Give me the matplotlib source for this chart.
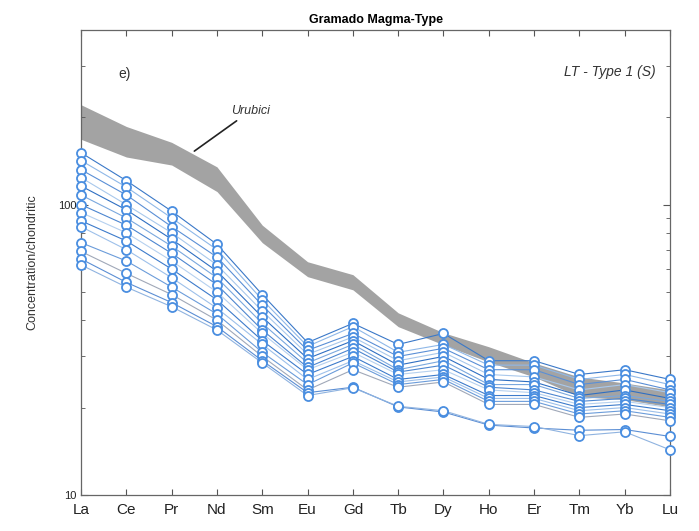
import numpy as np
import matplotlib
matplotlib.use("Agg")
import matplotlib.pyplot as plt
from matplotlib.ticker import LogLocator, NullFormatter, FixedLocator, FixedFormatter

plt.rcParams['font.family'] = ['Liberation Sans', 'DejaVu Sans']

elements = ["La", "Ce", "Pr", "Nd", "Sm", "Eu", "Gd", "Tb", "Dy", "Ho", "Er", "Tm", "Yb", "Lu"]

# Urubici field (chondrite normalised), upper and lower envelope
urubici_upper = [221, 186, 164, 135, 85, 63.6, 57.4, 42.4, 36.2, 32.4, 28.5, 25.5, 24.3, 23.0]
urubici_lower = [168, 146, 137, 111, 74, 56.5, 50.9, 38.0, 32.9, 28.7, 25.5, 21.8, 21.3, 20.1]

# LT - Type 1 (S) samples
samples = [
    [151, 121, 95, 73, 49, 33.5, 39, 33, 36, 29, 29, 26, 27, 25],
    [142, 115, 90, 70, 47, 32.5, 38, 31, 33, 28, 28, 25, 26, 24],
    [132, 108, 84, 66, 45, 31.5, 36, 30, 32, 27, 27, 24, 25, 23],
    [124, 100, 80, 62, 43, 30.5, 35, 29, 31, 26, 25.5, 23, 24, 22.5],
    [116, 96, 76, 59, 41, 29.5, 34, 28, 30, 25, 24.5, 22, 23, 21.5],
    [108, 90, 72, 56, 39, 28.5, 33, 27, 29, 24, 24, 21.5, 22, 21],
    [100, 85, 68, 53, 37, 27.5, 32, 26.5, 28, 23.5, 23, 21, 21.5, 20.5],
    [94, 80, 64, 50, 36, 27, 31, 26, 27, 23, 22.5, 20.5, 21, 20],
    [88, 75, 60, 47, 34, 26, 30, 25, 26, 22, 22, 20, 20.5, 19.5],
    [84, 70, 56, 44, 33, 25, 29, 24.5, 25.5, 21.5, 21.5, 19.5, 20, 19],
    [74, 64, 52, 42, 31, 24, 28.5, 24, 25, 21, 21, 19, 19.5, 18.5],
    [69, 58, 49, 40, 30, 23, 27, 23.5, 24.5, 20.5, 20.5, 18.5, 19, 18],
    [65, 54, 46, 38, 29, 22.5, 23.5, 20.1, 19.3, 17.4, 17.0, 16.7, 16.8, 15.9],
    [62, 52, 44.5, 37, 28.5, 22, 23.4, 20.2, 19.5, 17.5, 17.2, 16.0, 16.5, 14.3],
]

line_colors = ["#3a78c8", "#8fb8e8", "#5a8fd6", "#a8c8ec", "#2f6fc2", "#7aa8de",
               "#4d86d0", "#b5d0ef", "#3d7bcb", "#9dc0ea", "#6b9cda", "#a0a8b8",
               "#5b8ed4", "#8fb3e0"]

fig = plt.figure(figsize=(6.99, 5.31), dpi=100)
ax = fig.add_axes([0.116, 0.068, 0.8425, 0.8755])

x = np.arange(len(elements))
ax.fill_between(x, urubici_lower, urubici_upper, color="#a3a3a3", lw=0, zorder=1)

for vals, c in zip(samples, line_colors):
    ax.plot(x, vals, "-", color=c, lw=0.8, zorder=2)
for vals in samples:
    ax.plot(x, vals, "o", ms=6.5, mfc="white", mec="#4a8ee0", mew=1.3,
            zorder=3, clip_on=False)

ax.set_yscale("log")
ax.set_ylim(10, 400)
ax.set_xlim(0, len(elements) - 1)
ax.xaxis.set_major_locator(FixedLocator(x))
ax.xaxis.set_major_formatter(FixedFormatter(elements))
ax.yaxis.set_major_locator(FixedLocator([10, 100]))
ax.yaxis.set_major_formatter(FixedFormatter(["10", "100"]))
ax.yaxis.set_minor_locator(LogLocator(base=10, subs=np.arange(2, 10)))
ax.yaxis.set_minor_formatter(NullFormatter())

ax.tick_params(axis="both", which="both", direction="in", top=True, right=True,
               colors="#555555", labelcolor="#222222")
ax.tick_params(axis="x", which="major", labelsize=11, length=4, pad=6)
ax.tick_params(axis="y", which="major", labelsize=8, length=5)
ax.tick_params(axis="y", which="minor", length=3)
for s in ax.spines.values():
    s.set_color("#666666")
    s.set_linewidth(0.9)

ax.set_ylabel("Concentration/chondritic", fontsize=9, color="#333333", labelpad=14)
ax.set_title("Gramado Magma-Type", fontsize=9, fontweight="bold", pad=5)

ax.text(0.063, 0.897, "e)", transform=ax.transAxes, fontsize=10, color="#333333")
ax.text(0.975, 0.90, "LT - Type 1 (S)", transform=ax.transAxes, fontsize=10,
        style="italic", ha="right", color="#333333")
ax.annotate("Urubici", xy=(2.5, 153), xytext=(3.3, 205), fontsize=9,
            style="italic", color="#333333",
            arrowprops=dict(arrowstyle="-", color="#222222", lw=1.2,
                            shrinkA=1, shrinkB=0))

fig.savefig("out.png", dpi=100)
